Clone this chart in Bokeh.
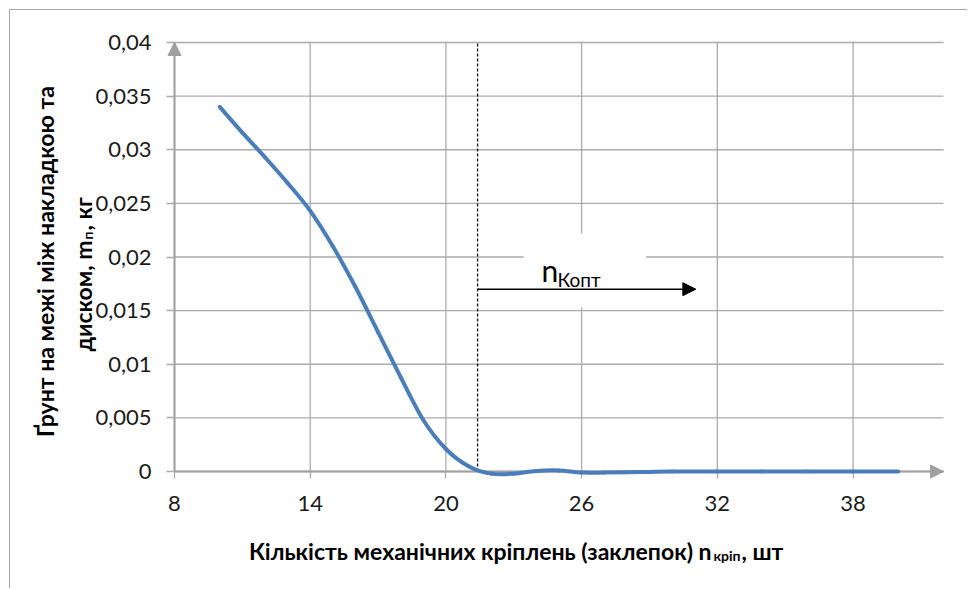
import math
import numpy as np
from bokeh.plotting import figure
from bokeh.models import (Range1d, FixedTicker, CustomJSTickFormatter, Arrow,
                          NormalHead, Label, BoxAnnotation)
from bokeh.embed import file_html
from bokeh.resources import INLINE

# ---- data ----
n_rivets = [10, 11, 12, 13, 14, 15, 16, 17, 18, 19, 20, 21, 22, 23, 24, 25, 26, 27, 28,
            29, 30, 32, 34, 36, 38, 40]
soil_mass = [0.0340, 0.0316, 0.0293, 0.0269, 0.0243, 0.0210, 0.0172, 0.0130, 0.0088,
             0.0048, 0.0021, 0.0005, -0.0002, -0.0002, 0.00005, 0.0001, -0.0001,
             -0.0001, -0.00008, -0.00004, 0.0, 0.0, 0.0, 0.0, 0.0, 0.0]
x_ticks = [8, 14, 20, 26, 32, 38]
y_ticks = [0, 0.005, 0.01, 0.015, 0.02, 0.025, 0.03, 0.035, 0.04]
x_min, x_max = 8, 42
y_min, y_max = 0, 0.04
n_opt = 21.4          # optimal number of rivets (dashed line)
arrow_end = 31.05     # end of the n_Kopt arrow
arrow_level = 0.017

FONT = "Lato"
GRID = "#ababab"
AXIS = "#a0a0a0"
BLUE = "#4a7ebb"

# ---- layout (page pixels) ----
CAN_L, CAN_T = 10, 10            # canvas top-left on the page
W, H = 958, 579
F_L, F_R, F_T, F_B = 174, 943, 42, 471   # plotting area on the page
PX = (F_R - F_L) / (x_max - x_min)
PY = (F_B - F_T) / (y_max - y_min)
xr = Range1d(x_min - (F_L - CAN_L) / PX, x_max + (CAN_L + W - F_R) / PX)
yr = Range1d(y_min - (CAN_T + H - F_B) / PY, y_max + (F_T - CAN_T) / PY)

p = figure(width=W, height=H, output_backend="svg", toolbar_location=None,
           x_range=xr, y_range=yr,
           min_border_left=0, min_border_right=0, min_border_top=0, min_border_bottom=0)
p.styles = {"margin-left": "9px", "margin-top": "9px",
            "border-left": "1px solid #a6a6a6", "border-top": "1px solid #a6a6a6"}
p.outline_line_color = None
p.background_fill_color = "white"
p.xgrid.visible = False
p.ygrid.visible = False

xa, ya = p.xaxis[0], p.yaxis[0]
xa.fixed_location = y_min
ya.fixed_location = x_min
xa.bounds = (x_min, x_max)
ya.bounds = (y_min, y_max)
for ax in (xa, ya):
    ax.axis_line_color = AXIS
    ax.axis_line_width = 2
    ax.major_tick_line_color = GRID
    ax.major_tick_line_width = 1.3
    ax.minor_tick_line_color = None
    ax.major_label_text_font = FONT
    ax.major_label_text_font_size = "22px"
    ax.major_label_text_color = "#1a1a1a"
    ax.major_tick_in = 0

xa.ticker = FixedTicker(ticks=x_ticks)
ya.ticker = FixedTicker(ticks=y_ticks)
xa.major_tick_out = 7
ya.major_tick_out = 8
xa.major_label_standoff = 17
ya.major_label_standoff = 15
ya.formatter = CustomJSTickFormatter(
    code="return (Math.round(tick*100000)/100000).toString().replace('.', ',');")

# grid lines limited to the plotting area
p.segment(x0=x_ticks, y0=[y_min] * len(x_ticks), x1=x_ticks, y1=[y_max] * len(x_ticks),
          line_color=GRID, line_width=1.3, level="underlay")
p.segment(x0=[x_min] * len(y_ticks), y0=y_ticks, x1=[x_max] * len(y_ticks), y1=y_ticks,
          line_color=GRID, line_width=1.3, level="underlay")

# white text box (covers grid lines)
p.add_layout(BoxAnnotation(left=23.44, right=28.84, bottom=0.0153, top=0.0222,
                           fill_color="white", fill_alpha=1, line_color=None,
                           level="underlay"))

# arrow heads at the ends of the axes
p.add_layout(Arrow(x_start=x_min, y_start=y_min, x_end=x_max, y_end=y_min,
                   line_alpha=0,
                   end=NormalHead(size=13, fill_color=AXIS, line_color=AXIS)))
p.add_layout(Arrow(x_start=x_min, y_start=y_min, x_end=x_min, y_end=y_max,
                   line_alpha=0,
                   end=NormalHead(size=13, fill_color=AXIS, line_color=AXIS)))

# dashed optimum line
p.segment(x0=[n_opt], y0=[y_min], x1=[n_opt], y1=[y_max], line_color="#111111",
          line_dash="3 2", line_width=1.3)

# smoothed curve (cubic Bezier segments through the data points, Excel style)
xs = np.array(n_rivets, dtype=float)
ys = np.array(soil_mass, dtype=float)
xp = np.concatenate([[xs[0]], xs, [xs[-1]]])
yp = np.concatenate([[ys[0]], ys, [ys[-1]]])
x0, y0 = xs[:-1], ys[:-1]
x1, y1 = xs[1:], ys[1:]
cx0 = x0 + (xp[2:-1] - xp[:-3]) / 6
cy0 = y0 + (yp[2:-1] - yp[:-3]) / 6
cx1 = x1 - (xp[3:] - xp[1:-2]) / 6
cy1 = y1 - (yp[3:] - yp[1:-2]) / 6
p.bezier(x0=x0, y0=y0, x1=x1, y1=y1, cx0=cx0, cy0=cy0, cx1=cx1, cy1=cy1,
         line_color=BLUE, line_width=4, line_cap="round", level="annotation")

# optimum arrow
p.add_layout(Arrow(x_start=n_opt, y_start=arrow_level, x_end=arrow_end, y_end=arrow_level,
                   line_color="black", line_width=1.6,
                   end=NormalHead(size=13, fill_color="black", line_color="black")))


# page pixel -> screen units (frame == canvas; x from left, y from bottom)
def scr(px, py):
    return px - CAN_L, CAN_T + H - py


def lab(px, py, text, size, angle=0.0, align="left", bold=True):
    sx, sy = scr(px, py)
    p.add_layout(Label(x=sx, y=sy, x_units="screen", y_units="screen", text=text,
                       angle=angle, text_font=FONT, text_font_size=size,
                       text_font_style="bold" if bold else "normal", text_color="black",
                       text_baseline="alphabetic", text_align=align))


# n_Kopt label
lab(541, 269, "n", "30px", bold=False)
lab(557, 279, "Копт", "19px", bold=False)

# x-axis title
lab(711, 550, "Кількість механічних кріплень (заклепок) n", "23px", align="right")
lab(713, 555, "кріп", "14px")
lab(741, 550, ", шт", "23px")

# y-axis title (rotated, two lines)
lab(44, 261, "Ґрунт на межі між накладкою та", "23px", math.pi / 2, "center")
lab(82, 240, "диском, m", "23px", math.pi / 2, "right")
lab(87, 239, "п", "14px", math.pi / 2)
lab(82, 230, ", кг", "23px", math.pi / 2)

open("out.html", "w").write(file_html(p, INLINE))
